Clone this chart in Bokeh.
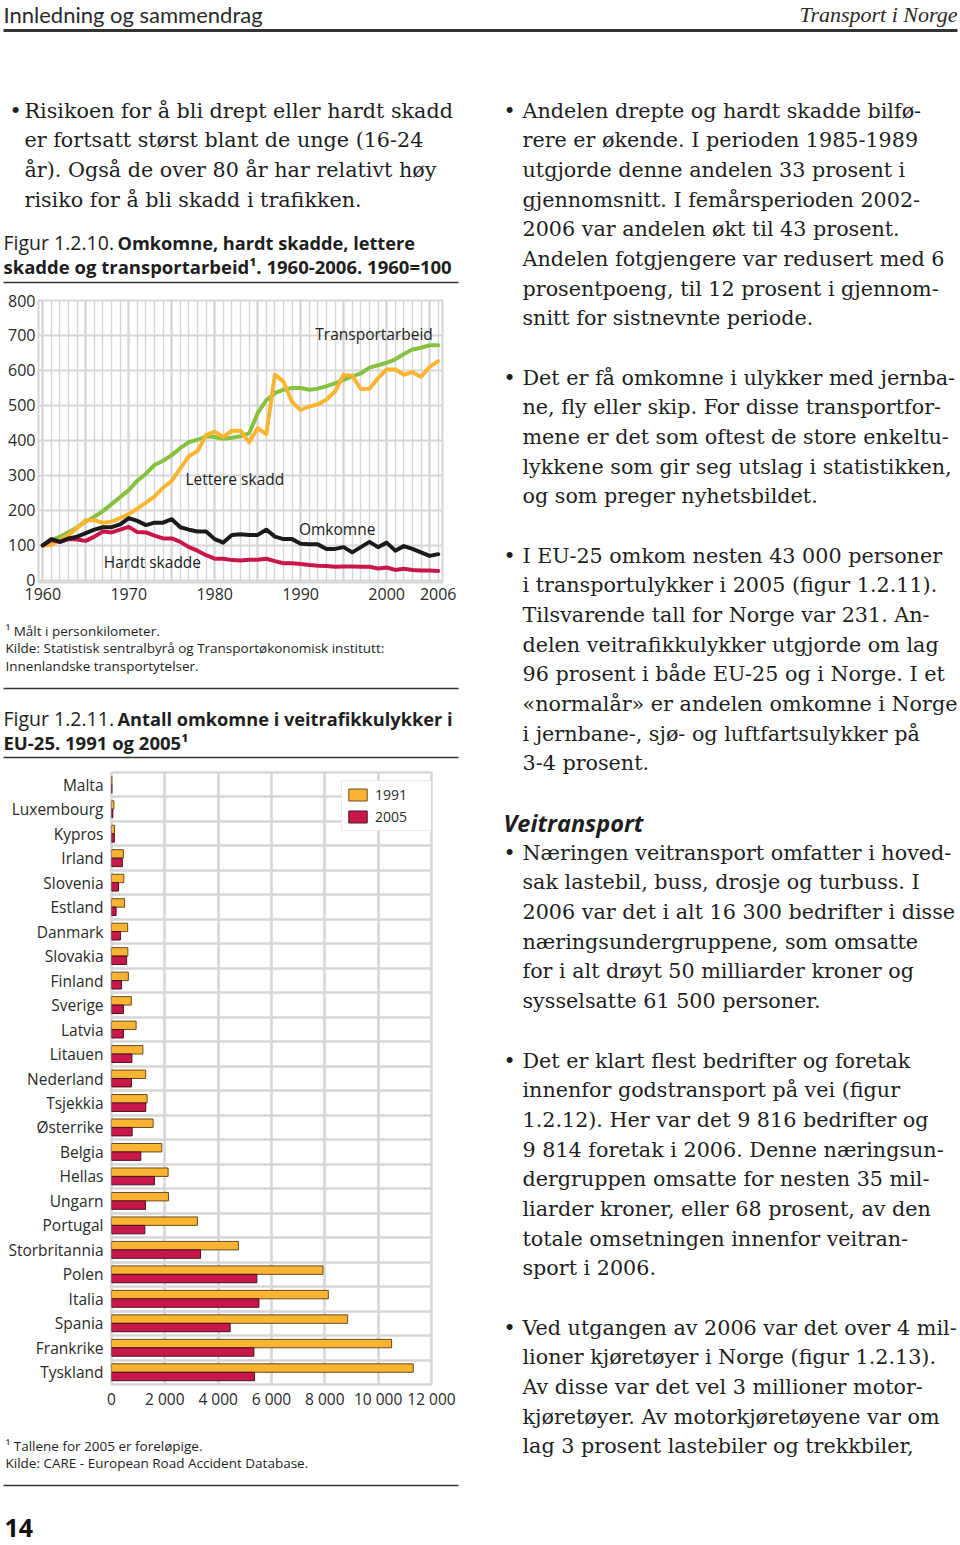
from bokeh.plotting import figure
from bokeh.layouts import column, row
from bokeh.models import Range1d, FixedTicker, ColumnDataSource
from bokeh.transform import dodge
from bokeh.core.properties import value
from bokeh.embed import file_html
from bokeh.resources import INLINE

# ---------------- data ----------------
years = list(range(1960, 2007))
transportarbeid = [100, 115, 125, 138, 152, 168, 182, 198, 218, 238,
                   258, 285, 305, 330, 342, 358, 378, 395, 402, 412,
                   410, 405, 408, 412, 420, 478, 515, 535, 545, 550,
                   550, 545, 548, 555, 563, 573, 583, 592, 608, 615,
                   622, 632, 647, 660, 665, 672, 672]
lettere_skadd = [100, 102, 115, 130, 150, 172, 172, 165, 168, 178,
                 190, 205, 222, 240, 265, 285, 320, 355, 370, 415,
                 425, 410, 428, 428, 395, 435, 418, 588, 568, 510,
                 487, 497, 503, 517, 540, 588, 585, 547, 548, 578,
                 603, 603, 588, 595, 582, 610, 627]
omkomne = [100, 118, 110, 120, 125, 135, 145, 152, 152, 160,
           178, 170, 158, 165, 165, 175, 152, 145, 140, 140,
           118, 108, 130, 132, 130, 130, 145, 125, 118, 118,
           105, 103, 103, 90, 90, 95, 80, 95, 110, 95,
           108, 85, 98, 90, 80, 70, 75]
hardt_skadde = [100, 115, 110, 118, 117, 113, 125, 140, 137, 145,
                153, 138, 137, 128, 120, 120, 110, 95, 85, 72,
                62, 62, 58, 57, 59, 59, 62, 55, 49, 49,
                47, 44, 42, 41, 39, 40, 40, 39, 39, 34,
                37, 30, 33, 30, 28, 28, 27]
line_x_ticks = [1960, 1970, 1980, 1990, 2000, 2006]
line_y_ticks = [0, 100, 200, 300, 400, 500, 600, 700, 800]

countries = ["Malta", "Luxembourg", "Kypros", "Irland", "Slovenia", "Estland",
             "Danmark", "Slovakia", "Finland", "Sverige", "Latvia", "Litauen",
             "Nederland", "Tsjekkia", "Østerrike", "Belgia", "Hellas", "Ungarn",
             "Portugal", "Storbritannia", "Polen", "Italia", "Spania",
             "Frankrike", "Tyskland"]
v1991 = [15, 90, 114, 445, 462, 490, 606, 614, 632, 745, 923, 1176, 1281,
         1336, 1561, 1886, 2123, 2136, 3222, 4759, 7931, 8131, 8855, 10504, 11316]
v2005 = [17, 50, 105, 405, 262, 172, 335, 568, 377, 445, 447, 765, 750,
         1286, 774, 1100, 1611, 1274, 1249, 3340, 5450, 5530, 4450, 5340, 5365]
bar_x_ticks = [0, 2000, 4000, 6000, 8000, 10000, 12000]
bar_x_labels = ["0", "2 000", "4 000", "6 000", "8 000", "10 000", "12 000"]

# ---------------- styles ----------------
SERIF = "DejaVu Serif"
SANS = "Open Sans"
TXT = "#1e1e1e"
GRID = "#d6d6d6"
C_GREEN = "#86c23f"
C_ORANGE = "#f9b531"
C_BLACK = "#1b1b1b"
C_RED = "#c8174b"
SERIF_SIZE = "20.7px"
LH = 29.7
LW, RW = 468, 492


def text_fig(w, h):
    p = figure(width=w, height=h, x_range=Range1d(0, w), y_range=Range1d(h, 0),
               x_axis_location=None, y_axis_location=None,
               toolbar_location=None, output_backend="svg", min_border=0,
               frame_align=False)
    p.grid.visible = False
    p.outline_line_color = None
    return p


def txt(p, x, y, s, font=SANS, size="18px", style="normal", align="left",
        color=TXT, baseline="middle"):
    p.text(x=[x], y=[y], text=[s], text_font=value(font), text_font_size=size,
           text_font_style=style, text_align=align, text_baseline=baseline,
           text_color=color)


def hline(p, x0, x1, y, w=1.5, color="#333333"):
    p.segment(x0=[x0], y0=[y], x1=[x1], y1=[y], line_width=w, line_color=color)


def paragraph(p, x_bullet, x_text, y0, lines, bullet=True):
    if bullet:
        txt(p, x_bullet, y0, "•", font=SERIF, size=SERIF_SIZE)
    for k, s in enumerate(lines):
        txt(p, x_text, y0 + k * LH, s, font=SERIF, size=SERIF_SIZE)


def style_axes(p, size):
    for ax in (p.xaxis, p.yaxis):
        ax.axis_line_color = None
        ax.major_tick_line_color = None
        ax.minor_tick_line_color = None
        ax.major_tick_out = 0
        ax.major_tick_in = 0
        ax.minor_tick_out = 0
        ax.minor_tick_in = 0
        ax.major_label_text_font = SANS
        ax.major_label_text_font_size = size
        ax.major_label_text_color = "#2a2a2a"


# ---------------- header (page y 0..40) ----------------
hdr = text_fig(LW + RW, 40)
txt(hdr, 3, 14, "Innledning og sammendrag", font="Lato",
    size="22px", color="#2a2a2a")
txt(hdr, 957, 14, "Transport i Norge", font="Liberation Serif", size="22px",
    style="italic", align="right", color="#2a2a2a")
hline(hdr, 3, 957, 30, w=3, color="#333333")

# ---------------- left column, part 1 (page y 40..284) ----------------
L1 = text_fig(LW, 244)
paragraph(L1, 9, 24, 70, [
    "Risikoen for å bli drept eller hardt skadd",
    "er fortsatt størst blant de unge (16-24",
    "år). Også de over 80 år har relativt høy",
    "risiko for å bli skadd i trafikken.",
])
txt(L1, 3, 202, "Figur 1.2.10.", size="19.5px")
txt(L1, 117, 202, "Omkomne, hardt skadde, lettere", size="18.2px", style="bold")
txt(L1, 3, 226, "skadde og transportarbeid¹. 1960-2006. 1960=100",
    size="18.5px", style="bold")
hline(L1, 3, 458, 242, w=1.6)

# ---------------- line chart (page y 284..612) ----------------
lp = figure(width=LW, height=328, x_range=Range1d(1959.5, 2006.5),
            y_range=Range1d(-6, 800), toolbar_location=None,
            output_backend="svg", min_border_left=38, min_border_right=26,
            min_border_top=16, min_border_bottom=30, frame_align=False)
lp.xaxis.ticker = FixedTicker(ticks=line_x_ticks)
lp.yaxis.ticker = FixedTicker(ticks=line_y_ticks)
style_axes(lp, "16px")
lp.yaxis.major_label_standoff = 3
lp.xaxis.major_label_standoff = 5
lp.xgrid.ticker = FixedTicker(ticks=[y for y in years if y % 5 == 0],
                              minor_ticks=years)
lp.xgrid.grid_line_color = GRID
lp.xgrid.grid_line_width = 2.2
lp.xgrid.minor_grid_line_color = GRID
lp.xgrid.minor_grid_line_width = 1.4
lp.ygrid.ticker = FixedTicker(ticks=line_y_ticks)
lp.ygrid.grid_line_color = GRID
lp.ygrid.grid_line_width = 2.2
lp.outline_line_color = GRID
lp.outline_line_width = 2

src = ColumnDataSource(dict(year=years, t=transportarbeid, l=lettere_skadd,
                            o=omkomne, h=hardt_skadde))
for col, c in (("t", C_GREEN), ("l", C_ORANGE), ("h", C_RED), ("o", C_BLACK)):
    lp.line("year", col, source=src, line_color=c, line_width=4,
            line_join="round", line_cap="round")

labels = [("Transportarbeid", 1991.7, 703), ("Lettere skadd", 1976.6, 289),
          ("Omkomne", 1989.8, 146), ("Hardt skadde", 1967.1, 54)]
lp.text(x=[a[1] for a in labels], y=[a[2] for a in labels],
        text=[a[0] for a in labels], text_font=value(SANS),
        text_font_size="15.5px", text_baseline="middle", text_color="#222222")

# ---------------- left column, part 2 (page y 612..765) ----------------
L3 = text_fig(LW, 153)
txt(L3, 5, 18, "¹ Målt i personkilometer.", size="13.5px")
txt(L3, 5, 35, "Kilde: Statistisk sentralbyrå og Transportøkonomisk institutt:",
    size="13.5px")
txt(L3, 5, 53, "Innenlandske transportytelser.", size="13.5px")
hline(L3, 3, 458, 76, w=1.6)
txt(L3, 3, 106, "Figur 1.2.11.", size="19.5px")
txt(L3, 117, 106, "Antall omkomne i veitrafikkulykker i", size="18.2px",
    style="bold")
txt(L3, 3, 130, "EU-25. 1991 og 2005¹", size="18.5px", style="bold")
hline(L3, 3, 458, 145, w=1.6)

# ---------------- bar chart (page y 765..1420) ----------------
n = len(countries)
y_idx = list(range(n - 1, -1, -1))
bp = figure(width=LW, height=655, x_range=Range1d(0, 12000),
            y_range=Range1d(-0.5, n - 0.5), toolbar_location=None,
            output_backend="svg", min_border_left=111, min_border_right=37,
            min_border_top=7, min_border_bottom=36, frame_align=False)
bp.xaxis.ticker = FixedTicker(ticks=bar_x_ticks)
bp.xaxis.major_label_overrides = dict(zip(bar_x_ticks, bar_x_labels))
bp.yaxis.ticker = FixedTicker(ticks=y_idx)
bp.yaxis.major_label_overrides = dict(zip(y_idx, countries))
style_axes(bp, "15.5px")
bp.yaxis.major_label_standoff = 8
bp.xaxis.major_label_standoff = 3
bp.xgrid.ticker = FixedTicker(ticks=bar_x_ticks)
bp.xgrid.grid_line_color = GRID
bp.xgrid.grid_line_width = 2.6
bp.ygrid.ticker = FixedTicker(ticks=[k - 0.5 for k in range(n + 1)])
bp.ygrid.grid_line_color = GRID
bp.ygrid.grid_line_width = 2.6
bp.outline_line_color = GRID
bp.outline_line_width = 2.6

bsrc = ColumnDataSource(dict(y=y_idx, a=v1991, b=v2005))
bp.hbar(y=dodge("y", 0.172, range=bp.y_range), left=0, right="a", height=0.345,
        source=bsrc, fill_color=C_ORANGE, line_color="#6a4a22", line_width=1,
        legend_label="1991")
bp.hbar(y=dodge("y", -0.172, range=bp.y_range), left=0, right="b", height=0.345,
        source=bsrc, fill_color=C_RED, line_color="#4a1020", line_width=1,
        legend_label="2005")
lg = bp.legend[0]
lg.location = (230, 553)
lg.margin = 0
lg.padding = 4
lg.spacing = 3
lg.glyph_width = 23
lg.glyph_height = 15
lg.label_height = 15
lg.label_width = 52
lg.label_standoff = 6
lg.label_text_font = SANS
lg.label_text_font_size = "14px"
lg.label_text_color = "#2a2a2a"
lg.border_line_color = GRID
lg.border_line_width = 1.6
lg.background_fill_color = "white"
lg.background_fill_alpha = 1.0

# ---------------- left column, part 3 (page y 1420..1545) ----------------
L5 = text_fig(LW, 125)
txt(L5, 5, 25, "¹ Tallene for 2005 er foreløpige.", size="13.5px")
txt(L5, 5, 42, "Kilde: CARE - European Road Accident Database.", size="13.5px")
hline(L5, 3, 458, 65, w=1.6)
txt(L5, 4, 107, "14", size="25px", style="bold", color="#111111")

# ---------------- right column (page x 468.., y 40..1545) ----------------
R = text_fig(RW, 1505)
XB, XT = 35, 54
paragraph(R, XB, XT, 70, [
    "Andelen drepte og hardt skadde bilfø-",
    "rere er økende. I perioden 1985-1989",
    "utgjorde denne andelen 33 prosent i",
    "gjennomsnitt. I femårsperioden 2002-",
    "2006 var andelen økt til 43 prosent.",
    "Andelen fotgjengere var redusert med 6",
    "prosentpoeng, til 12 prosent i gjennom-",
    "snitt for sistnevnte periode.",
])
paragraph(R, XB, XT, 337, [
    "Det er få omkomne i ulykker med jernba-",
    "ne, fly eller skip. For disse transportfor-",
    "mene er det som oftest de store enkeltu-",
    "lykkene som gir seg utslag i statistikken,",
    "og som preger nyhetsbildet.",
])
paragraph(R, XB, XT, 515, [
    "I EU-25 omkom nesten 43 000 personer",
    "i transportulykker i 2005 (figur 1.2.11).",
    "Tilsvarende tall for Norge var 231. An-",
    "delen veitrafikkulykker utgjorde om lag",
    "96 prosent i både EU-25 og i Norge. I et",
    "«normalår» er andelen omkomne i Norge",
    "i jernbane-, sjø- og luftfartsulykker på",
    "3-4 prosent.",
])
txt(R, XB, 782, "Veitransport", size="23.5px", style="bold italic")
paragraph(R, XB, XT, 812, [
    "Næringen veitransport omfatter i hoved-",
    "sak lastebil, buss, drosje og turbuss. I",
    "2006 var det i alt 16 300 bedrifter i disse",
    "næringsundergruppene, som omsatte",
    "for i alt drøyt 50 milliarder kroner og",
    "sysselsatte 61 500 personer.",
])
paragraph(R, XB, XT, 1020, [
    "Det er klart flest bedrifter og foretak",
    "innenfor godstransport på vei (figur",
    "1.2.12). Her var det 9 816 bedrifter og",
    "9 814 foretak i 2006. Denne næringsun-",
    "dergruppen omsatte for nesten 35 mil-",
    "liarder kroner, eller 68 prosent, av den",
    "totale omsetningen innenfor veitran-",
    "sport i 2006.",
])
paragraph(R, XB, XT, 1287, [
    "Ved utgangen av 2006 var det over 4 mil-",
    "lioner kjøretøyer i Norge (figur 1.2.13).",
    "Av disse var det vel 3 millioner motor-",
    "kjøretøyer. Av motorkjøretøyene var om",
    "lag 3 prosent lastebiler og trekkbiler,",
])

layout = column(hdr, row(column(L1, lp, L3, bp, L5), R))

open("out.html", "w").write(file_html(layout, INLINE))
